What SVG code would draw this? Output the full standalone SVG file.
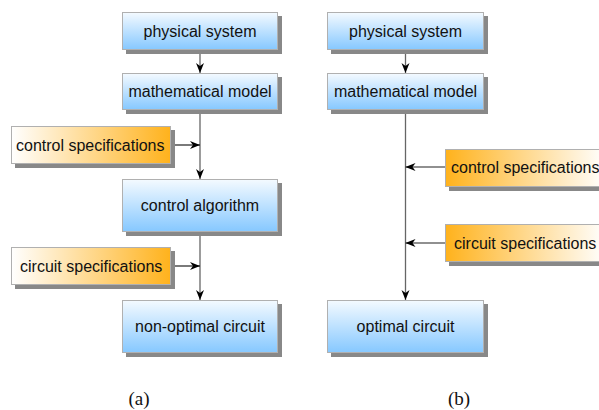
<svg xmlns="http://www.w3.org/2000/svg" width="599" height="410" viewBox="0 0 599 410">
<defs>
<linearGradient id="blue" x1="0" y1="0" x2="0" y2="1">
<stop offset="0" stop-color="#f4faff"/>
<stop offset="1" stop-color="#86c8ff"/>
</linearGradient>
<linearGradient id="orR" x1="0" y1="0" x2="1" y2="0">
<stop offset="0" stop-color="#ffffff"/>
<stop offset="1" stop-color="#ffb21c"/>
</linearGradient>
<linearGradient id="orL" x1="0" y1="0" x2="1" y2="0">
<stop offset="0" stop-color="#ffb21c"/>
<stop offset="1" stop-color="#ffffff"/>
</linearGradient>
<marker id="ah" viewBox="0 0 10 10" refX="10" refY="5" markerWidth="10" markerHeight="10" markerUnits="userSpaceOnUse" orient="auto">
<path d="M0,1 L10,5 L0,9 L3,5 Z" fill="#000"/>
</marker>
</defs>
<style>
.sh{fill:#888}
.bx{fill:url(#blue);stroke:#b0b0b0;stroke-width:1}
.ob{stroke:#b0b0b0;stroke-width:1}
.t{font-family:"Liberation Sans",Arial,sans-serif;font-size:16px;fill:#111;text-anchor:middle}
.ts{font-family:"Liberation Sans",Arial,sans-serif;font-size:16px;fill:#111}
.v{stroke:#666;stroke-width:1.3;fill:none}
.h{stroke:#222;stroke-width:1.2;fill:none}
.lab{font-family:"Liberation Serif","Times New Roman",serif;font-size:19px;fill:#111;text-anchor:middle}
</style>
<rect width="599" height="410" fill="#fff"/>
<g id="connectors">
<line class="v" x1="200" y1="50" x2="200" y2="73" marker-end="url(#ah)"/>
<line class="v" x1="200" y1="110" x2="200" y2="179" marker-end="url(#ah)"/>
<line class="h" x1="171" y1="145" x2="200" y2="145" marker-end="url(#ah)"/>
<line class="v" x1="200" y1="232" x2="200" y2="300" marker-end="url(#ah)"/>
<line class="h" x1="171" y1="266" x2="200" y2="266" marker-end="url(#ah)"/>
<line class="v" x1="405.5" y1="50" x2="405.5" y2="73" marker-end="url(#ah)"/>
<line class="v" x1="405.5" y1="110" x2="405.5" y2="300" marker-end="url(#ah)"/>
<line class="h" x1="445" y1="167" x2="405.5" y2="167" marker-end="url(#ah)"/>
<line class="h" x1="445" y1="243" x2="405.5" y2="243" marker-end="url(#ah)"/>
</g>
<g id="a-physical">
<rect class="sh" x="126" y="16" width="156" height="38"/>
<rect class="bx" x="122.5" y="12.5" width="155" height="37"/>
<text class="t" x="200" y="37">physical system</text>
</g>
<g id="a-model">
<rect class="sh" x="126" y="77" width="156" height="37"/>
<rect class="bx" x="122.5" y="73.5" width="155" height="36"/>
<text class="t" x="200" y="97">mathematical model</text>
</g>
<g id="a-control-spec">
<rect class="sh" x="15" y="130" width="160" height="38"/>
<rect class="ob" fill="url(#orR)" x="11.5" y="126.5" width="159" height="37"/>
<text class="ts" x="16" y="151">control specifications</text>
</g>
<g id="a-algorithm">
<rect class="sh" x="126" y="183" width="156" height="53"/>
<rect class="bx" x="122.5" y="179.5" width="155" height="52"/>
<text class="t" x="200" y="211">control algorithm</text>
</g>
<g id="a-circuit-spec">
<rect class="sh" x="15" y="251" width="160" height="38"/>
<rect class="ob" fill="url(#orR)" x="11.5" y="247.5" width="159" height="37"/>
<text class="ts" x="20" y="272">circuit specifications</text>
</g>
<g id="a-nonoptimal">
<rect class="sh" x="126" y="304" width="156" height="53"/>
<rect class="bx" x="122.5" y="300.5" width="155" height="52"/>
<text class="t" x="200" y="332">non-optimal circuit</text>
</g>
<g id="b-physical">
<rect class="sh" x="331" y="16" width="157" height="38"/>
<rect class="bx" x="327.5" y="12.5" width="156" height="37"/>
<text class="t" x="405.5" y="37">physical system</text>
</g>
<g id="b-model">
<rect class="sh" x="331" y="77" width="157" height="37"/>
<rect class="bx" x="327.5" y="73.5" width="156" height="36"/>
<text class="t" x="405.5" y="97">mathematical model</text>
</g>
<g id="b-control-spec">
<rect class="sh" x="449" y="153" width="160" height="38"/>
<rect class="ob" fill="url(#orL)" x="445.5" y="149.5" width="160" height="37"/>
<text class="ts" x="451" y="173">control specifications</text>
</g>
<g id="b-circuit-spec">
<rect class="sh" x="449" y="228" width="160" height="38"/>
<rect class="ob" fill="url(#orL)" x="445.5" y="224.5" width="160" height="37"/>
<text class="ts" x="454" y="249">circuit specifications</text>
</g>
<g id="b-optimal">
<rect class="sh" x="331" y="304" width="157" height="53"/>
<rect class="bx" x="327.5" y="300.5" width="156" height="52"/>
<text class="t" x="405.5" y="332">optimal circuit</text>
</g>
<text class="lab" x="139" y="405">(a)</text>
<text class="lab" x="459" y="405">(b)</text>
</svg>
